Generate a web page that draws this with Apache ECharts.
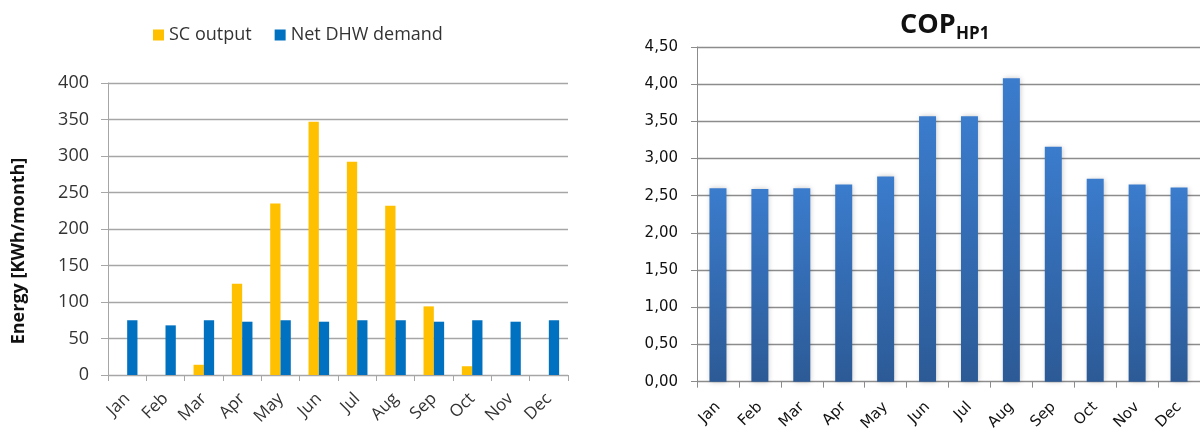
<!DOCTYPE html>
<html>
<head>
<meta charset="utf-8">
<script src="https://cdn.jsdelivr.net/npm/echarts@6/dist/echarts.min.js"></script>
<style>
  html, body { margin: 0; padding: 0; background: #fff; }
  #chart { width: 1200px; height: 434px; }
</style>
</head>
<body>
<div id="chart"></div>
<script>
// Monthly categories shared by both panels
const months = ['Jan', 'Feb', 'Mar', 'Apr', 'May', 'Jun', 'Jul', 'Aug', 'Sep', 'Oct', 'Nov', 'Dec'];

// Left panel: solar collector output and net domestic hot water demand, kWh/month
const scOutput = [0, 0, 14, 125, 235, 347, 292, 232, 94, 12, 0, 0];
const dhwDemand = [75, 68, 75, 73, 75, 73, 75, 75, 73, 75, 73, 75];

// Right panel: monthly coefficient of performance of heat pump 1
const copHP1 = [2.60, 2.59, 2.60, 2.65, 2.76, 3.57, 3.57, 4.08, 3.16, 2.73, 2.65, 2.61];

// Axis tick settings
const energyTicks = { min: 0, max: 400, interval: 50 };
const copTicks = { min: 0, max: 4.5, interval: 0.5 };

const chart = echarts.init(document.getElementById('chart'), null, { renderer: 'canvas' });

const leftFont = "'Open Sans', 'Liberation Sans', sans-serif";
const rightFont = "'DejaVu Sans', 'Liberation Sans', sans-serif";

chart.setOption({
  animation: false,
  backgroundColor: '#ffffff',
  title: [
    {
      text: 'COP',
      left: 895, top: 7,
      textStyle: { fontFamily: "'Open Sans', sans-serif", fontSize: 27, fontWeight: 'bold', color: '#111' }
    },
    {
      text: 'HP1',
      left: 951, top: 21,
      textStyle: { fontFamily: "'Open Sans', sans-serif", fontSize: 17, fontWeight: 'bold', color: '#111' }
    }
  ],
  legend: {
    left: 148, top: 21,
    itemWidth: 11, itemHeight: 11, itemGap: 23,
    icon: 'rect',
    textStyle: { fontFamily: leftFont, fontSize: 18, color: '#333' },
    data: ['SC output', 'Net DHW demand']
  },
  grid: [
    { left: 108, top: 83, width: 460, height: 292 },
    { left: 697, top: 47, width: 503, height: 337 }
  ],
  xAxis: [
    {
      type: 'category', gridIndex: 0, data: months,
      axisLine: { lineStyle: { color: '#a6a6a6', width: 1 } },
      axisTick: { show: true, alignWithLabel: false, length: 6, lineStyle: { color: '#a6a6a6' } },
      axisLabel: { rotate: 45, margin: 21, fontFamily: leftFont, fontSize: 17, color: '#333', interval: 0 }
    },
    {
      type: 'category', gridIndex: 1, data: months,
      axisLine: { lineStyle: { color: '#8c8c8c', width: 1 } },
      axisTick: { show: true, alignWithLabel: false, length: 6, lineStyle: { color: '#8c8c8c' } },
      axisLabel: { rotate: 45, margin: 23, fontFamily: rightFont, fontSize: 15, color: '#111', interval: 0 }
    }
  ],
  yAxis: [
    {
      type: 'value', gridIndex: 0,
      min: energyTicks.min, max: energyTicks.max, interval: energyTicks.interval,
      name: 'Energy [KWh/month]',
      nameLocation: 'middle', nameGap: 80, nameRotate: 90,
      nameTextStyle: { fontFamily: leftFont, fontSize: 18, fontWeight: 'bold', color: '#111', padding: [0, 44, 0, 0] },
      axisLine: { show: true, lineStyle: { color: '#a6a6a6' } },
      axisTick: { show: true, length: 7, lineStyle: { color: '#a6a6a6' } },
      axisLabel: { margin: 19, fontFamily: leftFont, fontSize: 18, color: '#333' },
      splitLine: { lineStyle: { color: '#a6a6a6', width: 1.3 } }
    },
    {
      type: 'value', gridIndex: 1,
      min: copTicks.min, max: copTicks.max, interval: copTicks.interval,
      axisLine: { show: true, lineStyle: { color: '#8c8c8c' } },
      axisTick: { show: true, length: 6, lineStyle: { color: '#8c8c8c' } },
      axisLabel: {
        margin: 19, fontFamily: rightFont, fontSize: 15, color: '#111',
        formatter: v => v.toFixed(2).replace('.', ',')
      },
      splitLine: { lineStyle: { color: '#8c8c8c', width: 1.3 } }
    }
  ],
  series: [
    {
      name: 'SC output', type: 'bar', xAxisIndex: 0, yAxisIndex: 0,
      data: scOutput, barWidth: 10.3, barGap: '0%',
      itemStyle: { color: '#ffc000' }
    },
    {
      name: 'Net DHW demand', type: 'bar', xAxisIndex: 0, yAxisIndex: 0,
      data: dhwDemand, barWidth: 10.3, barGap: '0%',
      itemStyle: { color: '#0070c0' }
    },
    {
      name: 'COP HP1', type: 'bar', xAxisIndex: 1, yAxisIndex: 1,
      data: copHP1, barWidth: 17,
      itemStyle: {
        color: new echarts.graphic.LinearGradient(0, 0, 0, 1, [
          { offset: 0, color: '#3b7ccd' },
          { offset: 1, color: '#2c5a96' }
        ], false),
        shadowColor: 'rgba(0,0,0,0.22)', shadowBlur: 5, shadowOffsetX: 1
      }
    }
  ]
});
</script>
</body>
</html>
